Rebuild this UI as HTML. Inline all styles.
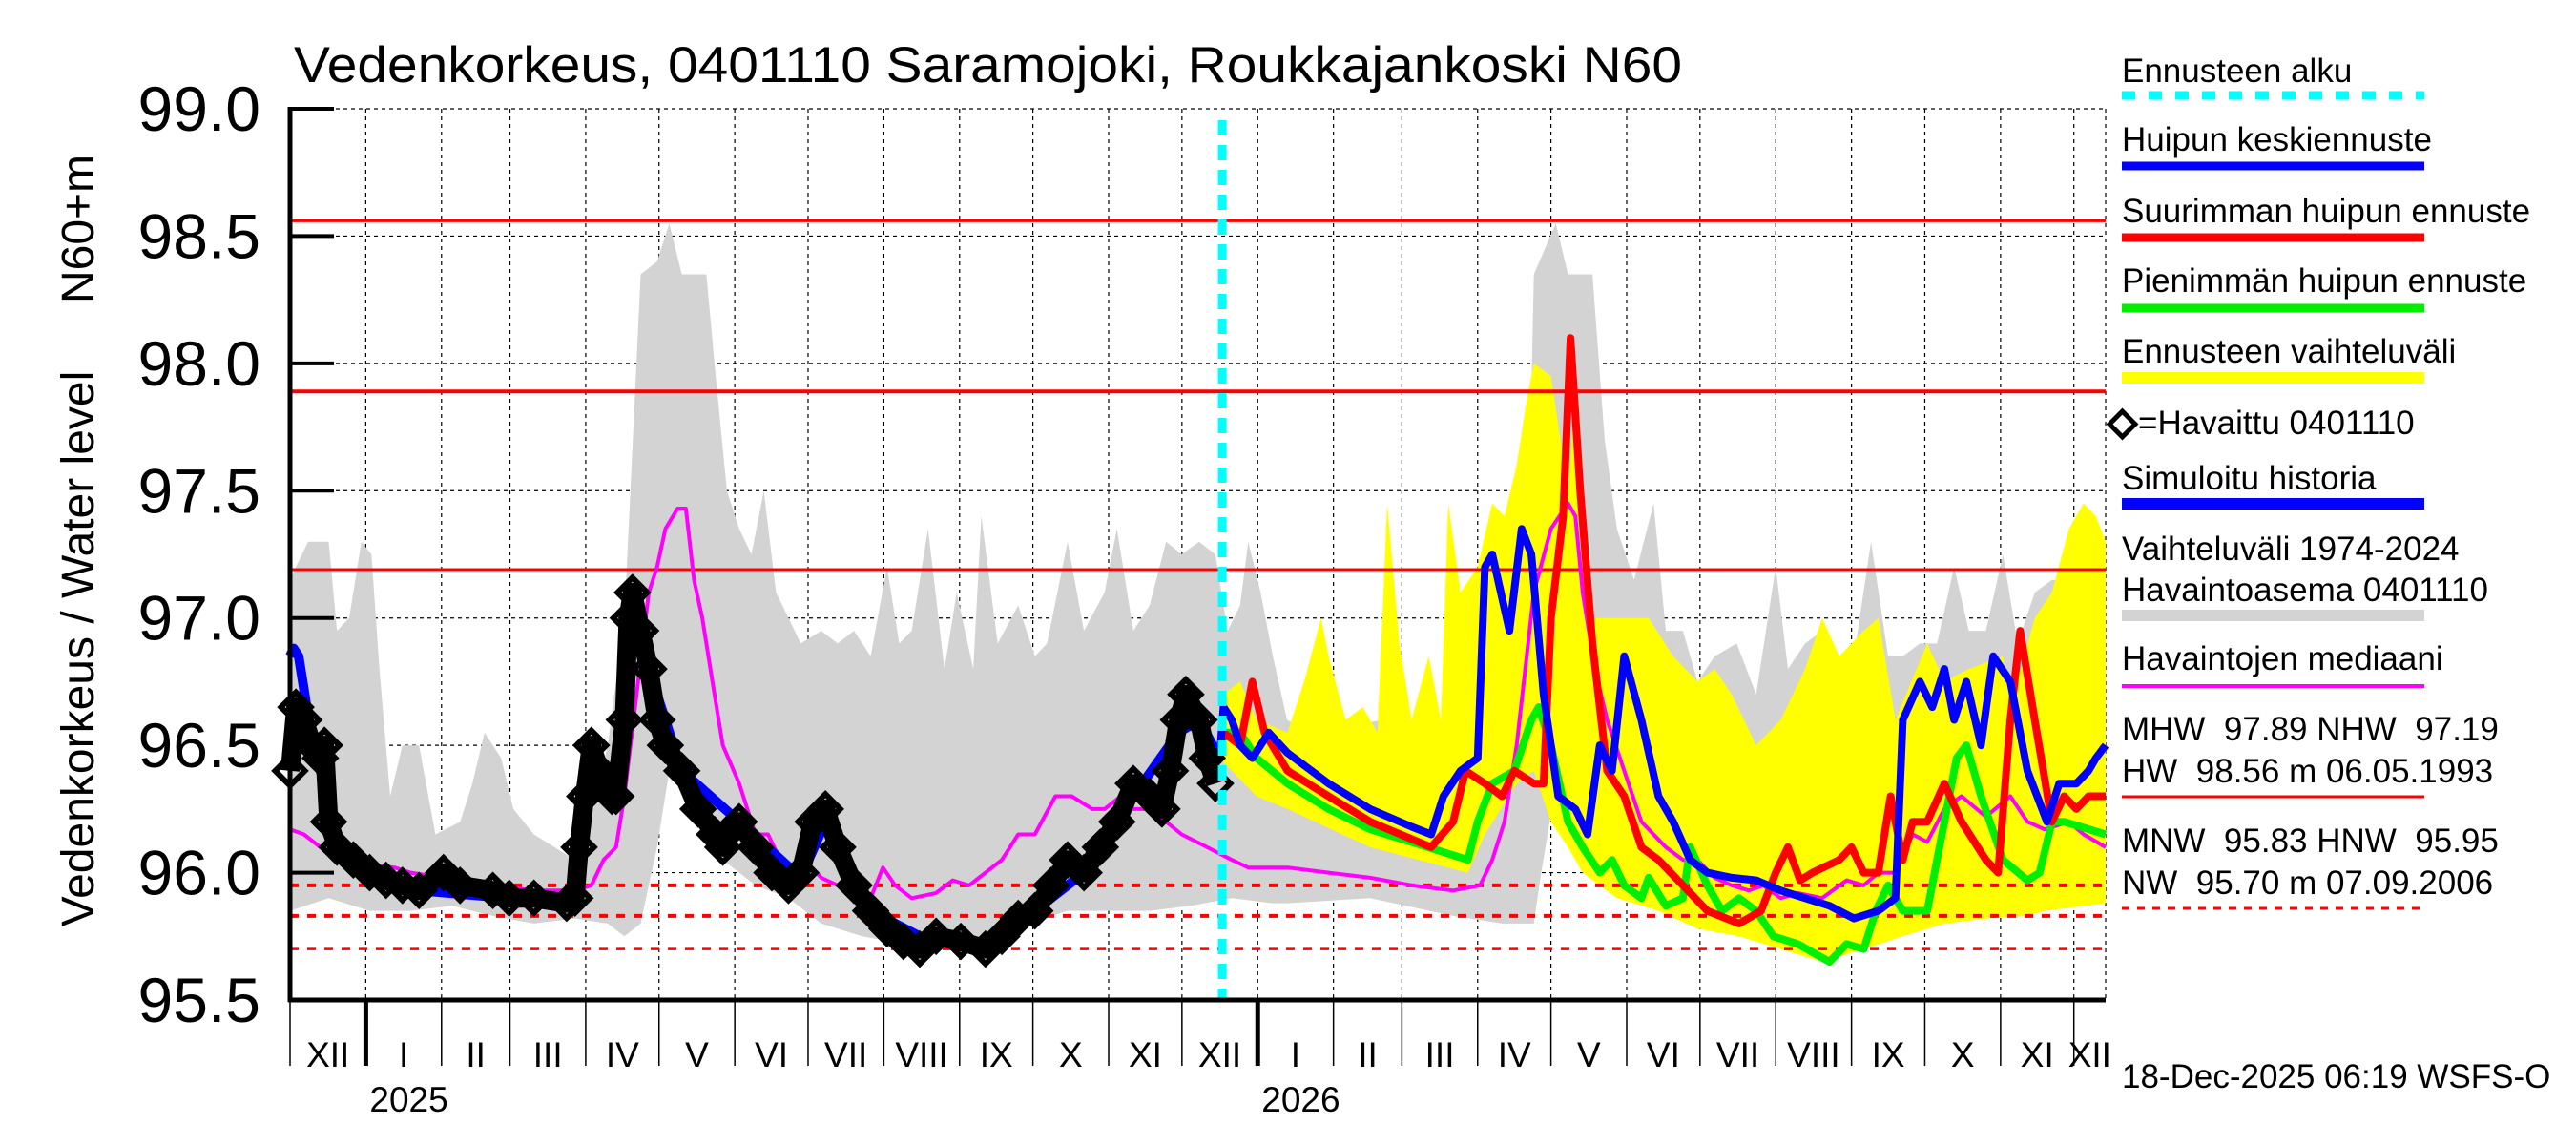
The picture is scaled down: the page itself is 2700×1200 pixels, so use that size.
<!DOCTYPE html>
<html><head><meta charset="utf-8"><style>
html,body{margin:0;padding:0;background:#fff;}
svg{display:block;font-family:"Liberation Sans",sans-serif;}
</style></head><body>
<svg id="chart" width="2700" height="1200" viewBox="0 0 2700 1200" xmlns="http://www.w3.org/2000/svg">
<rect x="0" y="0" width="2700" height="1200" fill="#fff"/>
<text x="308" y="86" font-size="53" textLength="1455" lengthAdjust="spacingAndGlyphs">Vedenkorkeus, 0401110 Saramojoki, Roukkajankoski N60</text>
<text transform="translate(98,680) rotate(-90)" text-anchor="middle" font-size="48">Vedenkorkeus / Water level</text>
<text transform="translate(98,240) rotate(-90)" text-anchor="middle" font-size="48">N60+m</text>
<g id="grid"></g>
<g id="bands"></g>
<g id="reflines"></g>
<g id="series"></g>
<g id="axes"></g>
<g id="legend">
<text x="2224" y="86" font-size="35">Ennusteen alku</text>
<line x1="2224" y1="100" x2="2541" y2="100" stroke="#00ffff" stroke-width="9" stroke-dasharray="14,14"/>
<text x="2224" y="158" font-size="35">Huipun keskiennuste</text>
<line x1="2224" y1="174" x2="2541" y2="174" stroke="#0000ff" stroke-width="9"/>
<text x="2224" y="233" font-size="35">Suurimman huipun ennuste</text>
<line x1="2224" y1="249" x2="2541" y2="249" stroke="#ff0000" stroke-width="9"/>
<text x="2224" y="306" font-size="35">Pienimmän huipun ennuste</text>
<line x1="2224" y1="323" x2="2541" y2="323" stroke="#00ee00" stroke-width="9"/>
<text x="2224" y="380" font-size="35">Ennusteen vaihteluväli</text>
<line x1="2224" y1="396" x2="2541" y2="396" stroke="#ffff00" stroke-width="12"/>
<rect x="2215" y="435" width="19" height="19" transform="rotate(45 2224.5 444.5)" fill="none" stroke="#000" stroke-width="5"/>
<text x="2241" y="455" font-size="35">=Havaittu 0401110</text>
<text x="2224" y="513" font-size="35">Simuloitu historia</text>
<line x1="2224" y1="528" x2="2541" y2="528" stroke="#0000ff" stroke-width="12"/>
<text x="2224" y="587" font-size="35">Vaihteluväli 1974-2024</text>
<text x="2224" y="630" font-size="35">Havaintoasema 0401110</text>
<line x1="2224" y1="645" x2="2541" y2="645" stroke="#d3d3d3" stroke-width="12"/>
<text x="2224" y="702" font-size="35">Havaintojen mediaani</text>
<line x1="2224" y1="719" x2="2541" y2="719" stroke="#ff00ff" stroke-width="4"/>
<text x="2224" y="776" font-size="35" xml:space="preserve">MHW  97.89 NHW  97.19</text>
<text x="2224" y="820" font-size="35" xml:space="preserve">HW  98.56 m 06.05.1993</text>
<line x1="2224" y1="835" x2="2541" y2="835" stroke="#ff0000" stroke-width="3"/>
<text x="2224" y="893" font-size="35" xml:space="preserve">MNW  95.83 HNW  95.95</text>
<text x="2224" y="937" font-size="35" xml:space="preserve">NW  95.70 m 07.09.2006</text>
<line x1="2224" y1="952" x2="2541" y2="952" stroke="#ff0000" stroke-width="3" stroke-dasharray="8,8"/>
<text x="2224" y="1140" font-size="35">18-Dec-2025 06:19 WSFS-O</text>
</g>
</svg>
<script>
// x values: days since 1 Dec 2024
const greyUpDays=[0,2.4,7.4,15.8,19.2,24.2,29.2,33.3,36.6,41,46,52.8,59.5,69.6,74.6,79.6,86.4,91.4,99.8,116.6,120.6,130,136.8,143.5,150.2,155.2,160.3,170.4,173.7,178.8,183.8,188.8,193.9,198.9,204,209,217.4,224.1,230.8,237.6,244.3,249.3,254.4,261.1,267.8,272.8,279.6,282.9,289.6,298,304.8,309.8,318.2,324.9,333.3,338.4,345.1,351.8,358.5,364.9,372,378.7,383.7,388.8,392.1,397.2,402.2,408,418,447,455,476,492,506,509,518,523,533,538,543,550,558,563,570,576,583,592,600,608,613,620,627,634,640,647,654,660,667,674,681,687,694,701,707,714,721,724,731,736,743];
const greyUpVals=[97.15,97.2,97.3,97.3,96.95,97.0,97.3,97.25,96.8,96.3,96.5,96.5,96.15,96.2,96.35,96.55,96.45,96.25,96.15,96.05,96.1,96.5,97.0,98.35,98.4,98.55,98.35,98.35,98.0,97.5,97.35,97.25,97.5,97.1,97.0,96.9,96.95,96.9,96.95,96.85,97.2,96.9,96.95,97.35,96.8,97.1,96.8,97.4,96.9,97.05,96.85,96.9,97.3,96.95,97.1,97.35,96.95,97.05,97.3,97.25,97.3,97.25,96.95,97.05,97.3,97.1,96.85,96.6,96.55,96.6,96.15,96.2,96.3,97.0,98.35,98.55,98.35,98.35,97.7,97.35,97.15,97.45,96.95,96.95,96.75,96.85,96.9,96.7,97.2,96.8,96.9,96.95,96.8,96.85,97.3,96.85,96.85,96.9,96.9,97.2,96.95,96.95,97.25,96.9,97.1,97.15,97.15,97.1,97.3,97.05];
const greyLoDays=[0,15.8,32.6,49.4,66.2,83,99.8,116.6,130,136.8,143.5,146.8,150.2,155.2,163.6,177.1,190.5,204,217.4,234.2,251,267.8,284.6,301.4,318.2,335,351.8,368.6,385.4,402.2,408,442,476,496,509,512,519,529,543,560,576,593,610,627,644,660,677,694,711,728,743];
const greyLoVals=[95.85,95.9,95.85,95.85,95.87,95.83,95.8,95.82,95.8,95.75,95.8,95.95,96.1,96.4,96.3,96.05,95.95,95.9,95.8,95.75,95.72,95.7,95.7,95.8,95.85,95.85,95.85,95.87,95.9,95.88,95.88,95.9,95.83,95.8,95.8,96.0,96.4,96.3,96.0,95.95,95.8,95.75,95.72,95.7,95.72,95.8,95.83,95.85,95.85,95.9,95.9];
const yelUpDays=[380.4,382,388.8,395.5,408.2,415,422,425,432,439,445,449,454,459,466,471,474,479,486,492,497,502,506,509,516,523,526,533,543,556,566,576,583,590,600,610,620,627,634,644,650,657,670,677,687,701,704,714,721,728,734,739,743];
const yelUpVals=[96.45,96.7,96.75,96.6,96.55,96.75,97.0,96.85,96.6,96.65,96.55,97.45,96.9,96.6,96.85,96.6,97.45,97.1,97.2,97.45,97.4,97.6,97.85,98.0,97.95,97.5,97.9,97.0,97.0,97.0,96.85,96.75,96.8,96.7,96.5,96.6,96.8,97.0,96.85,96.95,97.0,96.6,96.9,96.75,96.8,96.85,96.65,97.0,97.1,97.35,97.45,97.4,97.3];
const yelLoDays=[380.4,395.5,408.2,442,482,489,502,509,516,523,529,543,560,576,593,610,627,644,660,677,694,711,718,743];
const yelLoVals=[96.45,96.3,96.25,96.1,96.0,96.15,96.35,96.4,96.2,96.1,96.0,95.9,95.85,95.78,95.75,95.7,95.65,95.7,95.75,95.8,95.82,95.83,95.85,95.88];
const magDays=[0,5.7,12.4,22.5,32.6,42.7,49.4,62.8,83,99.8,116.6,123.3,128.3,133.4,136.8,141.8,146.8,150.2,153.6,158.6,162,165.3,168.7,173.7,177.1,183.8,190.5,195.6,200.6,205.6,210.7,217.4,224.1,232.5,237.6,242.6,247.6,254.4,264.4,271.2,277.9,284.6,291.3,298,304.8,313.2,319.9,328.3,333.3,340,345.1,351.8,358.5,364.9,375.3,385.4,392.1,408.2,425,442,459,476,487,492,497,502,509,516,523,526,529,534,539,546,553,563,570,576,583,590,597,603,610,617,627,637,644,650,657,664,670,677,684,694,704,711,718,728,734,743];
const magVals=[96.17,96.15,96.1,96.05,96.03,96.02,96.0,95.98,95.95,95.93,95.93,95.95,96.05,96.1,96.3,96.7,97.1,97.2,97.35,97.43,97.43,97.15,97.0,96.7,96.5,96.35,96.15,96.15,96.05,96.0,96.05,95.98,95.95,95.95,95.9,96.02,95.95,95.9,95.92,95.97,95.95,96.0,96.05,96.15,96.15,96.3,96.3,96.25,96.25,96.3,96.25,96.25,96.2,96.15,96.1,96.05,96.02,96.02,96.0,95.98,95.95,95.93,95.95,96.05,96.2,96.5,97.1,97.35,97.45,97.4,97.1,96.8,96.6,96.4,96.2,96.1,96.05,96.05,95.98,95.95,95.93,95.95,95.9,95.92,95.9,95.97,95.95,96.0,96.0,96.15,96.12,96.25,96.3,96.22,96.3,96.2,96.17,96.2,96.15,96.1];
const greenDays=[380.4,382,388.8,395.5,408.2,425,442,459,482,486,492,501,508,511,516,523,529,536,541,546,553,556,563,570,573,580,586,593,600,607,617,630,637,644,649,654,660,670,677,682,686,692,701,711,716,721,726,743];
const greenVals=[96.45,96.55,96.55,96.45,96.35,96.25,96.17,96.12,96.05,96.2,96.35,96.4,96.6,96.65,96.5,96.2,96.1,96.0,96.05,95.95,95.9,95.98,95.87,95.9,96.1,95.95,95.85,95.9,95.85,95.75,95.72,95.65,95.72,95.7,95.85,95.95,95.85,95.85,96.2,96.45,96.5,96.3,96.05,95.97,96.0,96.2,96.2,96.15];
const redDays=[380.4,382,388.8,393.8,398.8,408.2,425,442,467,476,481,489,496,501,509,513,516,521,524,528,533,539,546,553,560,570,580,593,602,608,613,618,623,634,639,644,650,655,660,664,670,677,684,694,699,704,708,714,721,726,731,736,743];
const redVals=[96.45,96.55,96.5,96.75,96.55,96.4,96.3,96.2,96.1,96.2,96.4,96.35,96.3,96.4,96.35,96.35,97.0,97.4,98.1,97.5,96.9,96.4,96.3,96.1,96.05,95.95,95.85,95.8,95.85,96.0,96.1,95.97,96.0,96.05,96.1,96.0,96.0,96.3,96.05,96.2,96.2,96.35,96.2,96.05,96.0,96.6,96.95,96.6,96.2,96.3,96.25,96.3,96.3];
const blueDays=[380.4,382,385.4,388.8,393.8,397.2,400.5,408.2,425,442,459,467,472,479,486,489,492,499,504,508,513,519,526,531,536,541,546,553,560,566,573,580,590,600,610,620,630,640,650,657,660,667,672,677,681,686,692,697,704,711,719,724,731,736,739,743];
const blueVals=[96.45,96.65,96.6,96.5,96.45,96.5,96.55,96.47,96.35,96.25,96.18,96.15,96.3,96.4,96.45,97.2,97.25,96.95,97.35,97.25,96.7,96.3,96.25,96.15,96.5,96.4,96.85,96.6,96.3,96.2,96.05,96.0,95.98,95.97,95.93,95.9,95.87,95.82,95.85,95.9,96.6,96.75,96.65,96.8,96.6,96.75,96.5,96.85,96.75,96.4,96.2,96.35,96.35,96.4,96.45,96.5];
const simDays=[0,1.5,3.5,6,9,12.4,15.8,19.2,25.9,32.6,52.8,89.7,113.2,118.3,123.3,130,136.8,140.1,146.8,160.3,183.8,209,219.1,237.6,257.7,284.6,304.8,324.9,345.1,363.6,372,380.4];
const simVals=[96.85,96.88,96.85,96.7,96.5,96.4,96.3,96.12,96.05,96.0,95.93,95.9,95.88,96.05,96.4,96.3,96.6,97.05,96.8,96.4,96.2,95.98,96.2,95.85,95.75,95.72,95.85,96.0,96.3,96.55,96.6,96.45];
const obsDays=[0,2.4,5.7,9.1,12.4,14.1,15.8,19.2,25.9,32.6,39.3,46,52.8,62.8,69.6,83,89.7,99.8,113.2,116.6,118.3,120.6,123.3,126.7,130,131.7,133.4,136.8,138.4,140.1,143.5,146.8,150.2,153.6,160.3,167,173.7,177.1,183.8,190.5,197.2,204,209,214,219.1,224.1,230.8,237.6,244.3,251,257.7,264.4,274.5,284.6,291.3,298,304.8,311.5,318.2,324.9,331.6,338.4,345.1,351.8,356.8,360.2,363.6,366.6,372,375.3,378.7];
const obsVals=[96.4,96.65,96.6,96.5,96.45,96.5,96.2,96.1,96.05,96.0,95.97,95.95,95.93,96.0,95.95,95.93,95.9,95.9,95.88,95.9,96.1,96.3,96.5,96.4,96.35,96.3,96.3,96.6,97.0,97.1,96.95,96.8,96.6,96.5,96.4,96.25,96.15,96.1,96.2,96.1,96.0,95.95,96.0,96.2,96.25,96.1,95.95,95.85,95.78,95.73,95.7,95.75,95.73,95.7,95.75,95.82,95.85,95.95,96.05,96.0,96.1,96.2,96.35,96.3,96.25,96.4,96.6,96.7,96.6,96.45,96.35];
const yTicks=[95.5,96.0,96.5,97.0,97.5,98.0,98.5,99.0];
const yTickLabels=["95.5","96.0","96.5","97.0","97.5","98.0","98.5","99.0"];
const refSolid=[98.56,97.89,97.19];
const refDashed=[95.95,95.83,95.70];
const monthLabels=["XII","I","II","III","IV","V","VI","VII","VIII","IX","X","XI","XII","I","II","III","IV","V","VI","VII","VIII","IX","X","XI","XII"];
const forecastDay=381.5;
const totalDays=743;

const NS="http://www.w3.org/2000/svg";
const X0=304,X1=2207,Y0=114,Y1=1048;
function xs(d){return X0+d*(X1-X0)/totalDays;}
function ys(v){return Y0+(99-v)*(Y1-Y0)/3.5;}
function mk(tag,attrs,parent){const e=document.createElementNS(NS,tag);for(const k in attrs)e.setAttribute(k,attrs[k]);parent.appendChild(e);return e;}
const grid=document.getElementById('grid'),bands=document.getElementById('bands'),refl=document.getElementById('reflines'),ser=document.getElementById('series'),axes=document.getElementById('axes');

const start=Date.UTC(2024,11,1);
const bounds=[];
for(let i=0;i<=monthLabels.length;i++){const d=(Date.UTC(2024,11+i,1)-start)/86400000;bounds.push(Math.min(d,totalDays));}
for(let i=1;i<monthLabels.length;i++){
  const l=mk('line',{x1:xs(bounds[i]),x2:xs(bounds[i]),y1:Y0,y2:Y1,stroke:'#000','stroke-width':1.2,'stroke-dasharray':'4,4'},grid);
  
  
}
const rb=mk('line',{x1:X1,x2:X1,y1:Y0,y2:Y1,stroke:'#000','stroke-width':1.2,'stroke-dasharray':'4,4'},grid);


yTicks.forEach(v=>{
  const l=mk('line',{x1:X0,x2:X1,y1:ys(v),y2:ys(v),stroke:'#000','stroke-width':1.2,'stroke-dasharray':'4,4'},grid);
  
  
});

function band(ud,uv,ld,lv,color,name){
  let p=[];for(let i=0;i<ud.length;i++)p.push(xs(ud[i]).toFixed(1)+','+ys(uv[i]).toFixed(1));
  for(let i=ld.length-1;i>=0;i--)p.push(xs(ld[i]).toFixed(1)+','+ys(lv[i]).toFixed(1));
  const e=mk('polygon',{points:p.join(' '),fill:color,stroke:'none'},bands);
  
  
}
band(greyUpDays,greyUpVals,greyLoDays,greyLoVals,'#d3d3d3','historical-range-band');
band(yelUpDays,yelUpVals,yelLoDays,yelLoVals,'#ffff00','forecast-range-band');

refSolid.forEach((v,i)=>{
  const l=mk('line',{x1:X0,x2:X1,y1:ys(v),y2:ys(v),stroke:'#ff0000','stroke-width':i==1?4:3},refl);
  
  
});
refDashed.forEach((v,i)=>{
  const l=mk('line',{x1:X0,x2:X1,y1:ys(v),y2:ys(v),stroke:'#ff0000','stroke-width':i<2?4:2.5,'stroke-dasharray':'9,9'},refl);
  
  
});

function line(ds,vs,color,w,name){
  const p=ds.map((d,i)=>xs(d).toFixed(1)+','+ys(vs[i]).toFixed(1)).join(' ');
  const e=mk('polyline',{points:p,fill:'none',stroke:color,'stroke-width':w,'stroke-linejoin':'round'},ser);
  
  
}
line(magDays,magVals,'#ff00ff',4,'median-line');
line(greenDays,greenVals,'#00ee00',8,'min-peak-forecast-line');
line(redDays,redVals,'#ff0000',8,'max-peak-forecast-line');
line(blueDays,blueVals,'#0000ff',8,'mean-peak-forecast-line');
line(simDays,simVals,'#0000ff',10,'simulated-history-line');
line(obsDays,obsVals,'#000',20,'observed-line');
obsDays.forEach((d,i)=>{
  const cx=xs(d),cy=ys(obsVals[i]);
  const r=mk('rect',{x:cx-11,y:cy-11,width:22,height:22,transform:`rotate(45 ${cx} ${cy})`,fill:'none',stroke:'#000','stroke-width':6},ser);
  
  
});
const fc=mk('line',{x1:xs(forecastDay),x2:xs(forecastDay),y1:Y0+12,y2:Y1,stroke:'#00ffff','stroke-width':9,'stroke-dasharray':'16,10'},ser);



const ya=mk('line',{x1:X0,x2:X0,y1:Y0-2,y2:Y1+2,stroke:'#000','stroke-width':5},axes);


const xa=mk('line',{x1:X0-2,x2:X1,y1:Y1,y2:Y1,stroke:'#000','stroke-width':5},axes);


yTicks.forEach((v,i)=>{
  const t=mk('line',{x1:X0,x2:X0+46,y1:ys(v),y2:ys(v),stroke:'#000','stroke-width':4},axes);
  
  
  const tx=mk('text',{x:273,y:ys(v)+23,'text-anchor':'end','font-size':66},axes);
  tx.textContent=yTickLabels[i];
  
  
});
for(let i=0;i<monthLabels.length;i++){
  const isJan=monthLabels[i]==='I';
  if(i>0){
    const t=mk('line',{x1:xs(bounds[i]),x2:xs(bounds[i]),y1:Y1,y2:1117,stroke:'#000','stroke-width':isJan?5:1.5},axes);
    
    
  }
  const mid=(bounds[i]+Math.min(bounds[i+1],totalDays+10))/2;
  const tx=mk('text',{x:xs(i==monthLabels.length-1?736.5:mid),y:1118,'text-anchor':'middle','font-size':37},axes);
  tx.textContent=monthLabels[i];
  
  
  if(isJan){
    const yr=mk('text',{x:xs(bounds[i])+4,y:1165,'font-size':37},axes);
    yr.textContent=String(2024+Math.ceil(i/12));
    
    
  }
}
const lt=mk('line',{x1:X0,x2:X0,y1:Y1,y2:1117,stroke:'#000','stroke-width':1.5},axes);


</script>
</body></html>
